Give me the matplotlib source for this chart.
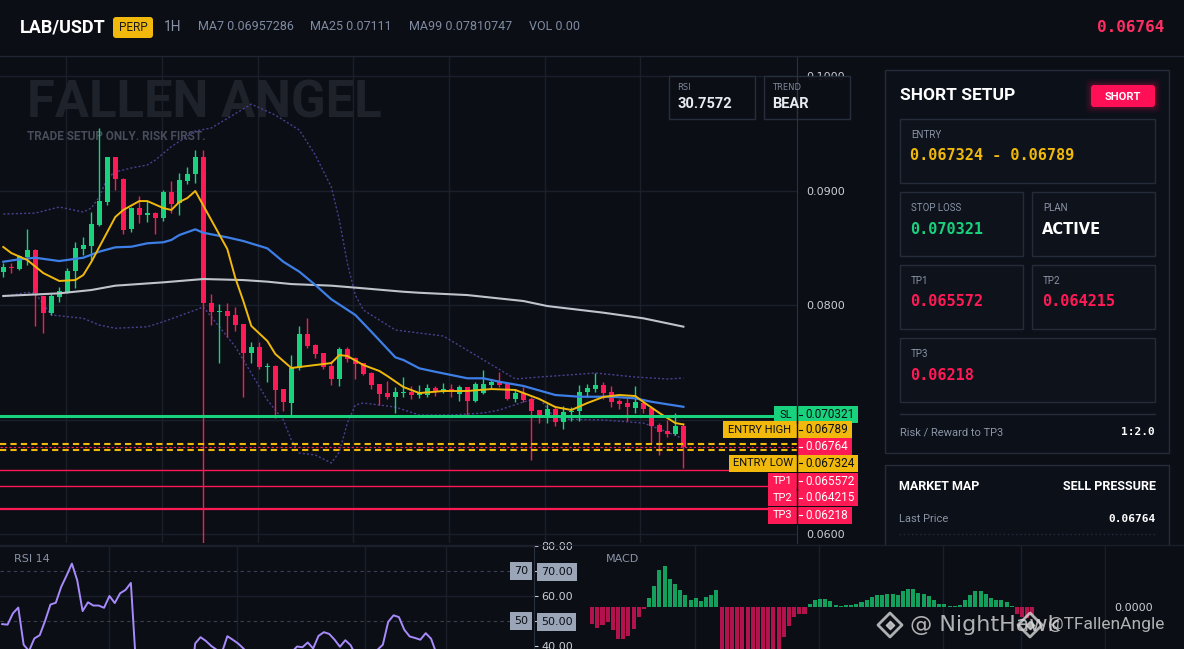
import numpy as np
import matplotlib.pyplot as plt
from matplotlib.patches import FancyBboxPatch, Rectangle
from matplotlib.transforms import blended_transform_factory

# ---- data ----
opens = [0.08291, 0.08335, 0.08317, 0.08417, 0.08480, 0.08081, 0.07928, 0.08073, 0.08116, 0.08300,
         0.08489, 0.08518, 0.08699, 0.08900, 0.09290, 0.09100, 0.08661, 0.08845, 0.08789, 0.08806,
         0.08763, 0.08990, 0.08888, 0.09086, 0.09142, 0.09290, 0.08015, 0.07936, 0.07948, 0.07913,
         0.07834, 0.07583, 0.07631, 0.07456, 0.07467, 0.07266, 0.07141, 0.07452, 0.07747, 0.07651,
         0.07578, 0.07467, 0.07354, 0.07613, 0.07535, 0.07491, 0.07404, 0.07307, 0.07229, 0.07194,
         0.07229, 0.07243, 0.07214, 0.07214, 0.07273, 0.07238, 0.07264, 0.07223, 0.07281, 0.07164,
         0.07229, 0.07301, 0.07330, 0.07310, 0.07179, 0.07234, 0.07179, 0.07083, 0.07033, 0.07089,
         0.06981, 0.07063, 0.07077, 0.07238, 0.07266, 0.07301, 0.07238, 0.07164, 0.07147, 0.07103,
         0.07147, 0.07098, 0.06952, 0.06902, 0.06873, 0.06946]
highs = [0.08367, 0.08370, 0.08437, 0.08664, 0.08489, 0.08081, 0.08096, 0.08160, 0.08321, 0.08553,
         0.08591, 0.08815, 0.09546, 0.09293, 0.09293, 0.09112, 0.08859, 0.08952, 0.08908, 0.08815,
         0.09004, 0.09083, 0.09150, 0.09208, 0.09354, 0.09354, 0.08096, 0.08006, 0.08015, 0.07980,
         0.07834, 0.07677, 0.07677, 0.07491, 0.07476, 0.07266, 0.07563, 0.07817, 0.07884, 0.07659,
         0.07578, 0.07514, 0.07636, 0.07636, 0.07548, 0.07491, 0.07417, 0.07307, 0.07339, 0.07281,
         0.07369, 0.07295, 0.07301, 0.07310, 0.07293, 0.07321, 0.07310, 0.07301, 0.07284, 0.07330,
         0.07432, 0.07354, 0.07412, 0.07310, 0.07258, 0.07281, 0.07199, 0.07083, 0.07135, 0.07112,
         0.07121, 0.07112, 0.07301, 0.07310, 0.07404, 0.07325, 0.07293, 0.07176, 0.07199, 0.07293,
         0.07176, 0.07098, 0.06972, 0.06996, 0.07059, 0.06972]
lows = [0.08245, 0.08282, 0.08306, 0.08349, 0.07819, 0.07758, 0.07913, 0.08029, 0.08102, 0.08151,
        0.08437, 0.08393, 0.08690, 0.08873, 0.09004, 0.08620, 0.08640, 0.08719, 0.08722, 0.08620,
        0.08731, 0.08801, 0.08786, 0.09057, 0.09063, 0.05773, 0.07825, 0.07496, 0.07723, 0.07776,
        0.07199, 0.07496, 0.07441, 0.07330, 0.07016, 0.07074, 0.07033, 0.07432, 0.07622, 0.07535,
        0.07438, 0.07301, 0.07293, 0.07505, 0.07354, 0.07389, 0.07264, 0.07127, 0.07176, 0.07059,
        0.07194, 0.07176, 0.07185, 0.07199, 0.07208, 0.07229, 0.07199, 0.07164, 0.07039, 0.07155,
        0.07223, 0.07273, 0.07286, 0.07170, 0.07150, 0.07150, 0.06646, 0.06967, 0.06972, 0.06946,
        0.06917, 0.06990, 0.06990, 0.07199, 0.07238, 0.07179, 0.07112, 0.07092, 0.06990, 0.07054,
        0.07059, 0.06792, 0.06690, 0.06850, 0.06865, 0.06576]
closes = [0.08335, 0.08321, 0.08428, 0.08480, 0.08102, 0.07933, 0.08081, 0.08122, 0.08297, 0.08501,
          0.08524, 0.08707, 0.08908, 0.09290, 0.09100, 0.08655, 0.08845, 0.08789, 0.08806, 0.08763,
          0.08990, 0.08882, 0.09092, 0.09144, 0.09295, 0.08015, 0.07942, 0.07948, 0.07907, 0.07825,
          0.07583, 0.07631, 0.07461, 0.07467, 0.07258, 0.07155, 0.07452, 0.07747, 0.07645, 0.07572,
          0.07461, 0.07354, 0.07613, 0.07528, 0.07485, 0.07397, 0.07301, 0.07223, 0.07194, 0.07238,
          0.07243, 0.07214, 0.07229, 0.07273, 0.07238, 0.07264, 0.07238, 0.07281, 0.07164, 0.07310,
          0.07310, 0.07330, 0.07301, 0.07179, 0.07234, 0.07170, 0.07077, 0.07033, 0.07089, 0.06981,
          0.07063, 0.07077, 0.07238, 0.07273, 0.07301, 0.07229, 0.07155, 0.07135, 0.07112, 0.07150,
          0.07092, 0.06946, 0.06893, 0.06873, 0.06946, 0.06764]

ma7_idx = [0, 1, 3, 5, 7, 9, 10, 11, 12, 14, 15, 17, 18, 20, 21, 22, 23, 24, 26, 28, 29, 30, 31, 33, 34,
           36, 39, 41, 42, 43, 45, 47, 48, 50, 52, 55, 58, 61, 64, 67, 69, 71, 73, 75, 77, 79, 80, 82, 84, 85]
ma7 = [0.08507, 0.08454, 0.08393, 0.08279, 0.08210, 0.08218, 0.08262, 0.08376, 0.08507, 0.08769,
       0.08830, 0.08908, 0.08908, 0.08847, 0.08830, 0.08900, 0.08934, 0.08996, 0.08742, 0.08489,
       0.08236, 0.08035, 0.07817, 0.07686, 0.07572, 0.07450, 0.07476, 0.07493, 0.07563, 0.07555,
       0.07476, 0.07424, 0.07380, 0.07284, 0.07231, 0.07249, 0.07249, 0.07266, 0.07258, 0.07179,
       0.07109, 0.07083, 0.07144, 0.07197, 0.07214, 0.07205, 0.07153, 0.07057, 0.06969, 0.06957]
ma25_idx = [0, 2, 4, 7, 10, 12, 14, 16, 18, 20, 21, 22, 24, 25, 28, 30, 33, 35, 37, 39, 41, 44, 46,
            49, 50, 52, 54, 58, 60, 62, 65, 69, 72, 76, 79, 81, 85]
ma25 = [0.08378, 0.08399, 0.08413, 0.08384, 0.08413, 0.08466, 0.08504, 0.08509, 0.08539, 0.08548,
        0.08568, 0.08611, 0.08661, 0.08631, 0.08591, 0.08559, 0.08495, 0.08378, 0.08291, 0.08175,
        0.08050, 0.07913, 0.07767, 0.07543, 0.07520, 0.07447, 0.07417, 0.07360, 0.07360, 0.07330,
        0.07293, 0.07214, 0.07199, 0.07199, 0.07185, 0.07155, 0.07111]
ma99_idx = [0, 7, 11, 14, 20, 25, 30, 33, 36, 41, 45, 50, 52, 58, 65, 68, 75, 80, 85]
ma99 = [0.08079, 0.08102, 0.08131, 0.08169, 0.08198, 0.08227, 0.08218, 0.08204, 0.08183, 0.08169,
        0.08146, 0.08116, 0.08107, 0.08087, 0.08035, 0.07991, 0.07933, 0.07884, 0.07811]
bbu_idx = [0, 4, 7, 10, 11, 12, 13, 14, 16, 18, 19, 21, 24, 26, 31, 34, 37, 39, 41, 42, 43, 44, 45,
           49, 52, 55, 59, 64, 67, 74, 79, 83, 85]
bb_upper = [0.08795, 0.08803, 0.08856, 0.08812, 0.08847, 0.08943, 0.09109, 0.09162, 0.09197, 0.09223,
            0.09266, 0.09383, 0.09520, 0.09546, 0.09755, 0.09659, 0.09528, 0.09310, 0.09031, 0.08742,
            0.08367, 0.08087, 0.07956, 0.07782, 0.07755, 0.07729, 0.07563, 0.07354, 0.07371, 0.07406,
            0.07371, 0.07354, 0.07362]
bbl_idx = [0, 3, 4, 6, 10, 12, 14, 18, 20, 24, 25, 27, 29, 31, 33, 35, 36, 37, 39, 41, 42, 43, 44, 45,
           49, 52, 56, 60, 62, 65, 67, 69, 75, 80, 83, 85]
bb_lower = [0.08073, 0.08111, 0.08102, 0.07913, 0.07884, 0.07825, 0.07797, 0.07810, 0.07854, 0.07956,
            0.07983, 0.07810, 0.07636, 0.07404, 0.07170, 0.06996, 0.06821, 0.06707, 0.06690, 0.06620,
            0.06716, 0.06969, 0.07127, 0.07144, 0.07109, 0.07039, 0.07039, 0.07057, 0.07083, 0.07153,
            0.07188, 0.07004, 0.06996, 0.06969, 0.06891, 0.06830]

rsi = [48.7, 48.5, 53.0, 55.3, 40.5, 38.0, 43.0, 44.3, 50.0, 56.5,
       57.2, 63.5, 68.0, 72.8, 66.1, 53.9, 57.4, 56.1, 56.1, 55.2,
       59.9, 57.1, 61.0, 62.3, 65.1, 31.0, 30.0, 31.5, 30.5, 29.5,
       25.5, 27.0, 25.0, 25.5, 22.5, 21.5, 41.0, 43.5, 42.0, 40.0,
       38.5, 37.5, 43.9, 42.5, 41.0, 39.0, 36.5, 34.5, 34.0, 36.0,
       36.5, 36.0, 36.5, 38.0, 37.5, 39.8, 39.5, 41.4, 39.0, 44.0,
       45.5, 44.8, 42.5, 39.7, 42.3, 40.3, 36.0, 34.5, 36.5, 35.0,
       38.5, 40.5, 49.6, 52.2, 51.5, 46.5, 43.8, 43.2, 42.5, 45.1,
       42.9, 37.0, 34.5, 33.5, 36.5, 30.76]

# MACD histogram, x 1e-6
macd_hist = [-52, -62, -55, -45, -68, -96, -96, -88, -66, -30,
             -7, 28, 62, 112, 122, 83, 70, 50, 35, 20,
             27, 17, 30, 37, 50, -135, -150, -165, -175, -180,
             -182, -178, -170, -160, -150, -140, -130, -90, -58, -30,
             -22, -20, 8, 20, 25, 25, 17, 7, 3, 5,
             7, 10, 15, 22, 30, 35, 37, 40, 40, 37,
             48, 53, 53, 43, 38, 32, 20, 8, 8, 3,
             3, 7, 22, 37, 47, 47, 38, 28, 22, 20,
             15, 2, -22, -30, -34, -25]

symbol = 'LAB/USDT'
ma_values = ['MA7 0.06957286', 'MA25 0.07111', 'MA99 0.07810747', 'VOL 0.00']
last_price = 0.06764
rsi_now = '30.7572'
trend = 'BEAR'
entry_low, entry_high = 0.067324, 0.06789
stop_loss = 0.070321
tp_levels = [0.065572, 0.064215, 0.06218]
price_ticks = [0.06, 0.07, 0.08, 0.09, 0.10]

# ---- style ----
W, H = 1184, 649
BG = '#0b0e15'
CARD = '#0c1019'
BOX = '#0e121b'
EDGE = '#252c39'
GRID = '#1a1f2a'
GRAY = '#8a94a6'
GREEN = '#19d27e'
RED = '#ff1a56'
YELLOW = '#f0b90b'
NARROW = ['Roboto', 'DejaVu Sans']
MONO = ['DejaVu Sans Mono']

plt.rcParams['font.family'] = ['DejaVu Sans']

fig = plt.figure(figsize=(W / 100, H / 100), dpi=100, facecolor=BG)


def frac(x0, y0, x1, y1):
    return [x0 / W, 1 - y1 / H, (x1 - x0) / W, (y1 - y0) / H]


ax = fig.add_axes(frac(0, 56, 797, 543))
rsi_ax = fig.add_axes(frac(0, 545, 534, 649))
macd_ax = fig.add_axes(frac(590, 545, 1106, 649))
ui = fig.add_axes([0, 0, 1, 1], zorder=5)
ui.set_xlim(0, W)
ui.set_ylim(H, 0)
ui.axis('off')

idx = np.arange(len(closes))
o, h, l, c = map(np.array, (opens, highs, lows, closes))
up = c >= o
cols = np.where(up, GREEN, RED)

# ---- main price chart ----
ax.set_facecolor('none')
ax.set_xlim(-0.41, 99.2)
ax.set_ylim(0.059214, 0.10175)
for gx in [7.9, 19.85, 31.8, 43.75, 55.7, 67.65, 79.6]:
    ax.axvline(gx, color=GRID, lw=1, zorder=0)
for gy in price_ticks:
    ax.axhline(gy, color=GRID, lw=1, zorder=0)

ax.text(27, 103, 'FALLEN ANGEL', transform=ui.transData, color='#1d222b', fontsize=36.5,
        fontweight='bold', family=NARROW, va='center', zorder=0.5)
ax.text(27, 137, 'TRADE SETUP ONLY. RISK FIRST.', transform=ui.transData, color='#464c59',
        fontsize=8.5, fontweight='bold', family=NARROW, va='center', zorder=0.5)

ax.plot(bbu_idx, bb_upper, color='#4a3f8f', lw=1, ls=(0, (1.5, 1.5)), zorder=2)
ax.plot(bbl_idx, bb_lower, color='#4a3f8f', lw=1, ls=(0, (1.5, 1.5)), zorder=2)

ax.vlines(idx, l, h, colors=cols, lw=1, zorder=3)
body_lo = np.minimum(o, c)
body_h = np.maximum(np.abs(c - o), 0.00012)
ax.bar(idx, body_h, bottom=body_lo, width=0.62, color=cols, lw=0, zorder=4)

ax.plot(ma99_idx, ma99, color='#bfc3cb', lw=1.5, zorder=5)
ax.plot(ma25_idx, ma25, color='#3d7fe6', lw=1.6, zorder=5)
ax.plot(ma7_idx, ma7, color=YELLOW, lw=1.4, zorder=6)

ax.axhline(stop_loss, color=GREEN, lw=2.2, zorder=7)
ax.axhline(entry_high, color=YELLOW, lw=1.5, ls=(0, (3, 2)), zorder=7)
ax.axhline(entry_low, color=YELLOW, lw=1.5, ls=(0, (3, 2)), zorder=7)
ax.axhline(last_price, color=RED, lw=0.8, ls=(0, (2, 2)), zorder=7)
for lv, lw in zip(tp_levels, [1.0, 1.0, 1.6]):
    ax.axhline(lv, color=RED, lw=lw, zorder=7)

ax.yaxis.tick_right()
ax.set_yticks(price_ticks)
# the 0.0700 label sits under the SL tag in the reference
ax.set_yticklabels(['' if t == 0.07 else '%.4f' % t for t in price_ticks])
ax.tick_params(axis='y', length=0, pad=7, labelsize=8, labelcolor='#c9ced8')
ax.set_xticks([])
for s in ['top', 'left', 'bottom']:
    ax.spines[s].set_visible(False)
ax.spines['right'].set_color('#2a3140')

# ---- RSI panel ----
rsi_ax.set_facecolor('none')
rsi_ax.set_xlim(-0.41, 99.2)
rsi_ax.set_ylim(38.8, 80.2)
for gx in [19.85, 43.75, 67.65, 82.8]:
    rsi_ax.axvline(gx, color=GRID, lw=1, zorder=0)
for gy in [60, 80]:
    rsi_ax.axhline(gy, color=GRID, lw=1, zorder=0)
for gy in [70, 50]:
    rsi_ax.axhline(gy, color='#3a4150', lw=0.8, ls=(0, (3, 3)), zorder=1)
rsi_ax.plot(idx, rsi, color='#a78bfa', lw=1.4, zorder=3)
rsi_ax.yaxis.tick_right()
rsi_ax.set_yticks([40, 50, 60, 70, 80])
rsi_ax.set_yticklabels(['40.00', '50.00', '60.00', '70.00', '80.00'])
rsi_ax.tick_params(axis='y', length=3, color='#c9ced8', pad=2, labelsize=8, labelcolor='#c9ced8')
rsi_ax.set_xticks([])
for lbl in rsi_ax.get_yticklabels():
    if lbl.get_text() in ('70.00', '50.00'):
        lbl.set_color('#0b0e15')
        lbl.set_bbox(dict(boxstyle='square,pad=0.35', fc='#9aa5b8', ec='none'))
rtr = blended_transform_factory(rsi_ax.transAxes, rsi_ax.transData)
for lv in [70, 50]:
    rsi_ax.text(0.976, lv, str(lv), transform=rtr, ha='center', va='center', fontsize=8,
                color='#0b0e15', bbox=dict(boxstyle='square,pad=0.35', fc='#9aa5b8', ec='none'))
for s in ['top', 'left', 'bottom']:
    rsi_ax.spines[s].set_visible(False)
rsi_ax.spines['right'].set_color('#2a3140')
rsi_ax.text(14, 559, 'RSI 14', transform=ui.transData, color=GRAY, fontsize=8, va='center')

# ---- MACD panel ----
macd_ax.set_facecolor('none')
macd_ax.set_xlim(-0.41, 99.2)
macd_ax.set_ylim(-1.26e-4, 1.86e-4)
for gx in [19.85, 43.75, 67.65, 82.8, 99.0]:
    macd_ax.axvline(gx, color=GRID, lw=1, zorder=0)
mh = np.array(macd_hist) * 1e-6
macd_ax.bar(idx, mh, width=0.78, color=np.where(mh >= 0, '#14a05c', '#b3134c'), lw=0, zorder=2)
macd_ax.yaxis.tick_right()
macd_ax.set_yticks([0])
macd_ax.set_yticklabels(['0.0000'])
macd_ax.tick_params(axis='y', length=0, pad=6, labelsize=8, labelcolor='#c9ced8')
macd_ax.set_xticks([])
for s in macd_ax.spines.values():
    s.set_visible(False)
macd_ax.text(606, 559, 'MACD', transform=ui.transData, color=GRAY, fontsize=8, va='center')

# ---- header ----
ui.plot([0, W], [55.5, 55.5], color='#1f2632', lw=1)
ui.plot([0, W], [544.5, 544.5], color='#1a1f2a', lw=1)
ui.text(20, 27, symbol, color='white', fontsize=13, fontweight='bold', family=NARROW, va='center')
ui.add_patch(FancyBboxPatch((113, 17), 40, 21, boxstyle='round,pad=0,rounding_size=3', fc=YELLOW, ec='none'))
ui.text(133, 27.5, 'PERP', color='#1b1b1b', fontsize=8.5, family=NARROW, ha='center', va='center')
ui.text(164, 27, '1H', color=GRAY, fontsize=10, family=NARROW, va='center')
for x, s in zip([198, 310, 409, 529], ma_values):
    ui.text(x, 27, s, color='#7f8ba1', fontsize=9, family=NARROW, va='center')
ui.text(1164, 28, '%.5f' % last_price, color='#ff2e63', fontsize=11.5, fontweight='bold',
        family=MONO, ha='right', va='center')

# ---- RSI / TREND boxes ----
for x0, lab, val in [(669, 'RSI', rsi_now), (764, 'TREND', trend)]:
    ui.add_patch(Rectangle((x0, 76), 86, 43, fc=BG, ec='#283040', lw=1, alpha=0.95))
    ui.text(x0 + 8, 88, lab, color='#7d8798', fontsize=6, va='center')
    ui.text(x0 + 8, 104, val, color='#e8ebf0', fontsize=10.5, fontweight='bold', family=NARROW, va='center')
ui.plot([797, 797], [76, 119], color='#2a3140', lw=1)


# ---- price tags on the axis ----
def ypx(v):
    return H - ax.transData.transform((0, v))[1]


tags = [('SL', stop_loss, '%.6f' % stop_loss, GREEN, '#0b0e15', -1),
        ('ENTRY HIGH', entry_high, '%.5f' % entry_high, YELLOW, '#0b0e15', -14),
        ('', last_price, '%.5f' % last_price, RED, 'white', 0),
        ('ENTRY LOW', entry_low, '%.6f' % entry_low, YELLOW, '#0b0e15', 13),
        ('TP1', tp_levels[0], '%.6f' % tp_levels[0], RED, 'white', 11),
        ('TP2', tp_levels[1], '%.6f' % tp_levels[1], RED, 'white', 12),
        ('TP3', tp_levels[2], '%.5f' % tp_levels[2], RED, 'white', 6)]
for name, lv, val, fc, tc, off in tags:
    yc = ypx(lv) + off
    if name:
        wn = 10 + 6.4 * len(name)
        ui.add_patch(Rectangle((797 - wn, yc - 8.5), wn, 17, fc=fc, ec='none'))
        ui.text(797 - wn / 2, yc, name, color=tc, fontsize=8, family=NARROW, ha='center', va='center')
    wv = 10 + 6.4 * len(val)
    ui.add_patch(Rectangle((797, yc - 8.5), wv, 17, fc=fc, ec='none'))
    ui.plot([797, 797], [yc - 8.5, yc + 8.5], color='#0b0e15', lw=1)
    ui.plot([799, 802], [yc, yc], color=tc, lw=0.8)
    ui.text(805, yc, val, color=tc, fontsize=8.5, family=NARROW, va='center')

# ---- SHORT SETUP card ----
ui.add_patch(Rectangle((885, 70), 284, 383, fc=CARD, ec=EDGE, lw=1))
ui.text(900, 96, 'SHORT SETUP', color='white', fontsize=12.5, fontweight='bold', family=NARROW, va='center')
for k, a in enumerate([0.05, 0.08, 0.12]):
    g = 6 - 2 * k
    ui.add_patch(FancyBboxPatch((1091 - g, 85 - g), 64 + 2 * g, 22 + 2 * g,
                                boxstyle='round,pad=0,rounding_size=6', fc='#ff0f55', ec='none', alpha=a))
ui.add_patch(FancyBboxPatch((1091, 85), 64, 22, boxstyle='round,pad=0,rounding_size=3', fc='#ff0f55', ec='none'))
ui.text(1123, 96.5, 'SHORT', color='white', fontsize=8, fontweight='bold', family=NARROW, ha='center', va='center')

boxes = [((900, 119, 255, 64), 'ENTRY', '%.6f - %.5f' % (entry_low, entry_high), YELLOW, MONO),
         ((900, 192, 123, 64), 'STOP LOSS', '%.6f' % stop_loss, GREEN, MONO),
         ((1032, 192, 123, 64), 'PLAN', 'ACTIVE', 'white', ['DejaVu Sans']),
         ((900, 265, 123, 64), 'TP1', '%.6f' % tp_levels[0], RED, MONO),
         ((1032, 265, 123, 64), 'TP2', '%.6f' % tp_levels[1], RED, MONO),
         ((900, 338, 255, 64), 'TP3', '%.5f' % tp_levels[2], RED, MONO)]
for (x0, y0, bw, bh), lab, val, vc, fam in boxes:
    ui.add_patch(Rectangle((x0, y0), bw, bh, fc=BOX, ec=EDGE, lw=1))
    ui.text(x0 + 11, y0 + 16, lab, color=GRAY, fontsize=7, family=NARROW, va='center')
    ui.text(x0 + 10, y0 + 37, val, color=vc, fontsize=11 if fam == MONO else 10.5,
            fontweight='bold', family=fam, va='center')

ui.plot([900, 1155], [414, 414], color=EDGE, lw=1)
ui.text(900, 432, 'Risk / Reward to TP3', color=GRAY, fontsize=8, family=NARROW, va='center')
ui.text(1155, 432, '1:2.0', color='white', fontsize=8, fontweight='bold', family=MONO, ha='right', va='center')

# ---- MARKET MAP card (cut off by the bottom strip) ----
ui.add_patch(Rectangle((885, 465), 284, 79, fc=CARD, ec='none'))
ui.plot([885, 885, 1169, 1169], [544, 465, 465, 544], color=EDGE, lw=1)
ui.text(899, 487, 'MARKET MAP', color='white', fontsize=9, fontweight='bold', family=NARROW, va='center')
ui.text(1156, 487, 'SELL PRESSURE', color='white', fontsize=9, fontweight='bold', family=NARROW,
        ha='right', va='center')
ui.text(899, 519, 'Last Price', color=GRAY, fontsize=8, family=NARROW, va='center')
ui.text(1156, 519, '%.5f' % last_price, color='white', fontsize=8, fontweight='bold', family=MONO,
        ha='right', va='center')
ui.plot([899, 1156], [534, 534], color=EDGE, lw=1, ls=(0, (1, 2)))

# ---- watermark ----
for lx in [890, 1030]:
    ui.scatter([lx], [625], marker='D', s=150, facecolors='none', edgecolors='#d8d8d8', linewidths=2, alpha=0.8)
    ui.scatter([lx], [625], marker='D', s=18, color='#d8d8d8', alpha=0.8)
ui.text(910, 625, '@ NightHawk', color='#dcdcdc', fontsize=16, va='center', alpha=0.8)
ui.text(1048, 625, '@TFallenAngle', color='#dcdcdc', fontsize=12.5, family=NARROW, va='center', alpha=0.8)

fig.savefig('out.png', dpi=100, facecolor=BG)
